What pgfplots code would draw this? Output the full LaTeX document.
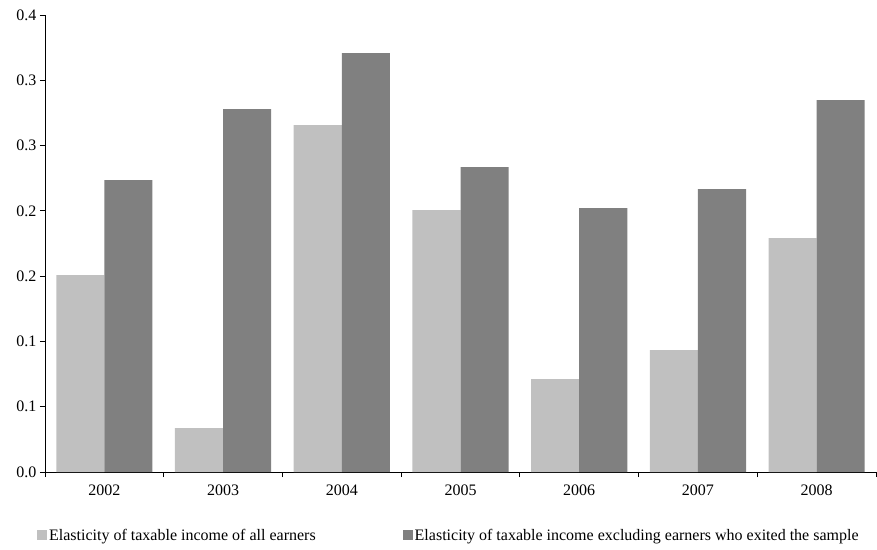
\documentclass[border=0pt]{standalone}
\usepackage{pgfplots}
\pgfplotsset{compat=1.18}
\usepackage{fontspec}
\setmainfont{Liberation Serif}
\definecolor{lightbar}{HTML}{C0C0C0}
\definecolor{darkbar}{HTML}{808080}
\begin{document}
\begin{tikzpicture}
\begin{axis}[
  scale only axis, width=831pt, height=457pt,
  xmin=-0.5, xmax=6.5, ymin=0, ymax=0.35,
  axis lines*=left,
  axis line style={line width=0.8pt, black},
  ytick={0,0.05,0.1,0.15,0.2,0.25,0.3,0.35},
  yticklabels={0.0,0.1,0.1,0.2,0.2,0.3,0.3,0.4},
  xtick={-0.5,0.5,1.5,2.5,3.5,4.5,5.5,6.5},
  xticklabels={},
  extra x ticks={0,1,2,3,4,5,6},
  extra x tick labels={2002,2003,2004,2005,2006,2007,2008},
  extra x tick style={major tick length=0pt, tick style={draw=none}},
  xticklabel style={yshift=-9pt},
  tick align=outside, major tick length=5pt,
  tick style={black, line width=0.8pt},
  every tick label/.append style={font=\fontsize{16}{19}\selectfont},
  ybar, bar width=0.405,
  legend style={at={(0.486,-0.14)}, anchor=center, draw=none,
    font=\fontsize{16}{19}\selectfont, legend columns=2,
    /tikz/every even column/.append style={column sep=85pt},
    nodes={inner sep=2pt}},
  legend image code/.code={\fill[#1,draw=none] (0pt,-4pt) rectangle (10pt,6pt);},
]
\addplot[fill=lightbar, draw=none, bar shift=-0.2025] coordinates {
  (0,0.1508) (1,0.0337) (2,0.2657) (3,0.2006) (4,0.0712) (5,0.0934) (6,0.1792)};
\addplot[fill=darkbar, draw=none, bar shift=0.2025] coordinates {
  (0,0.2236) (1,0.2779) (2,0.3208) (3,0.2335) (4,0.2021) (5,0.2167) (6,0.2848)};
\legend{Elasticity of taxable income of all earners, Elasticity of taxable income excluding earners who exited the sample}
\end{axis}
\pgfresetboundingbox
\path (-45pt,-77pt) rectangle (832pt,472pt);
\end{tikzpicture}
\end{document}
